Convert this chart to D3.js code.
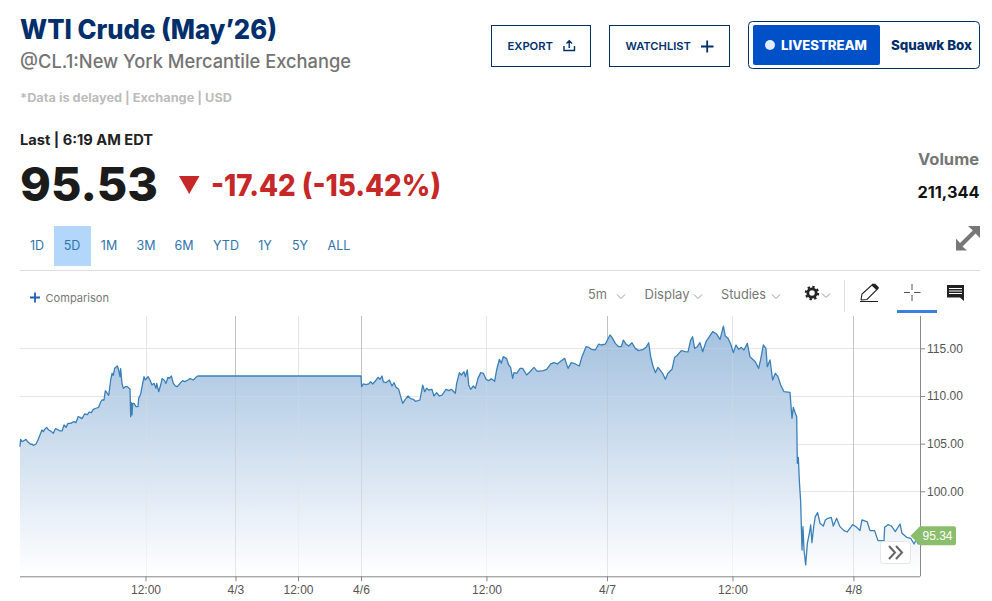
<!DOCTYPE html>
<html><head><meta charset="utf-8">
<script src="https://cdn.jsdelivr.net/npm/d3@7"></script>
<style>html,body{margin:0;padding:0;background:#fff}svg{display:block}</style>
</head><body><div id="c"></div>
<script>
// hours since start of the 5-day window (session-compressed axis)
const hours = [0,.06,.19,.38,.57,.76,1.02,1.15,1.27,1.53,1.72,1.91,2.1,2.23,2.36,2.55,2.74,2.93,3.19,3.38,3.57,3.82,4.02,4.21,4.4,4.59,4.84,5.16,5.35,5.55,5.74,5.93,6.18,6.44,6.63,6.82,7.01,7.33,7.52,7.71,7.84,8.03,8.16,8.35,8.48,8.67,8.8,8.92,9.05,9.31,9.43,9.56,9.62,9.75,9.88,10.07,10.26,10.52,10.58,10.64,10.71,10.77,10.9,11.09,11.28,11.35,11.54,11.73,11.86,11.98,12.24,12.43,12.62,12.81,13,13.07,13.26,13.45,13.58,13.77,13.96,14.15,14.28,14.47,14.66,14.85,15.04,15.3,15.55,15.74,16.06,16.25,16.57,16.89,17.02,
32.6,32.67,32.83,33.08,33.34,33.53,33.72,33.97,34.23,34.42,34.61,34.74,34.99,35.31,35.57,35.76,35.95,36.21,36.4,36.59,36.84,37.1,37.35,37.61,37.8,38.05,38.24,38.5,38.69,38.88,39.07,39.39,39.58,39.84,40.09,40.35,40.73,40.99,41.24,41.62,41.75,42.01,42.2,42.45,42.58,42.77,42.9,43.09,43.34,43.54,43.79,44.05,44.3,44.56,44.81,45.07,45.38,45.57,45.83,46.02,46.21,46.53,46.72,46.91,47.1,47.23,47.49,47.81,48.06,48.44,48.76,49.14,49.46,50.04,50.36,50.74,51.06,51.38,51.69,52.08,52.4,52.71,53.1,53.48,53.73,54.12,54.37,54.63,55.01,55.33,55.58,55.96,56.16,56.41,56.6,56.92,57.24,57.49,57.69,57.94,58.2,58.51,58.83,59.15,59.6,59.85,60.11,60.3,60.49,60.75,61,
61.44,61.7,61.95,62.34,62.59,62.78,63.23,63.61,63.87,64.12,64.31,64.5,64.76,65.01,65.27,65.59,65.91,66.23,66.61,66.93,67.25,67.44,67.69,67.95,68.2,68.46,68.71,68.97,69.22,69.54,69.79,70.05,70.3,70.62,70.81,71.07,71.32,71.45,71.71,71.96,72.22,72.47,72.73,73.05,73.62,73.81,73.94,74.13,74.26,74.32,74.42,74.51,74.64,74.77,74.86,74.96,75.12,75.28,75.47,75.6,75.72,75.91,76.04,76.26,76.49,76.81,77,77.25,77.57,77.76,78.08,78.4,78.78,79.1,79.61,80,80.31,80.5,81.01,81.27,81.71,82.03,82.22,82.61,82.67,82.99,83.31,83.69,84.14,84.33,84.77,85.16,85.48,85.67,85.89,86.05];
const prices = [104.68,105.45,105.21,105.31,105.45,105.17,104.93,104.96,104.82,104.96,105.38,105.91,106.43,106.26,106.5,106.71,106.43,106.33,106.08,106.57,106.5,106.33,106.33,106.96,106.71,107.13,107.13,107.31,107.2,107.83,107.76,107.62,108.11,108.04,108.32,108.25,108.6,108.74,108.81,109.37,109.58,109.58,110.56,110.28,110.07,111.68,112.38,112.17,112.9,113.15,112.73,112.03,112.87,111.33,110.8,110.98,110.98,110.7,107.83,109.3,108.01,109.23,109.23,108.88,108.88,109.75,110.21,111.33,112.03,111.68,112.03,111.68,111.15,111.33,110.8,111.33,110.45,111.15,111.82,111.68,111.33,111.96,111.85,112.1,111.33,111.05,110.98,111.33,111.61,111.5,111.68,111.82,111.68,112.03,112.1,
112.1,110.98,111.26,111.19,111.26,111.5,111.26,111.57,111.96,111.75,112.1,111.47,111.4,111.68,111.05,111.4,110.91,110.7,109.93,109.23,109.65,110,109.72,109.65,109.44,109.51,109.58,111.15,110.45,110.8,110.63,110.7,110,110.35,110,110.1,110.7,110.56,110.7,110.28,111.33,112.45,112.2,112.55,112.03,112.73,111.15,110.7,111.05,110.8,111.85,112.45,112.38,111.75,111.61,111.82,111.54,112.73,113.85,113.43,114.13,113.92,113.25,113,111.85,112.45,112.38,112.9,112.9,112.2,112.55,113,112.59,112.66,112.8,113.36,113.5,113.36,113.64,113.95,112.9,113.5,113.36,113.15,114.13,115.17,115.1,114.9,114.83,115.45,115.35,115.45,115.87,116.4,116.15,115.52,115.17,115.17,115.87,115.45,115.24,115.59,115,114.76,114.9,115.1,115.59,114.13,113.25,112.45,113,
112.38,111.75,112.38,112.8,114.06,114.2,114.76,114.65,114.62,115.87,116.22,115,115.17,115.59,114.65,115.7,116.22,116.75,116.5,115.94,117.34,116.29,116.05,115.45,114.55,115.35,114.9,115.1,114.83,115.52,114.13,113.85,113.6,112.9,113.78,115.35,115,113.08,113.78,111.68,112.38,112.03,111.15,110.45,110.38,107.66,108.81,108.18,107.83,102.94,103.56,101.19,98.91,93.84,96.29,93.84,92.27,94.54,95.59,96.47,94.61,96.47,97.34,97.76,96.64,96.36,96.99,97.17,97.27,96.36,97.17,96.29,95.87,95.73,96.5,96.22,95.87,96.99,96.78,95.87,95.87,94.82,94.82,94.82,96.22,96.5,96.36,95.77,96.57,95.59,95.17,95.07,94.47,94.89,94.47,94.72];
const xTickHours = [12,20.6,26.58,32.6,44.6,56.12,68.12,79.68];
const xTickLabels = ["12:00","4/3","12:00","4/6","12:00","4/7","12:00","4/8"];
const dayTicks = [20.6,32.6,56.12,79.68];
const yTicks = [115,110,105,100];
const lastPrice = 95.34;
const ranges = ["1D","5D","1M","3M","6M","YTD","1Y","5Y","ALL"];
const rangeCenters = [37,72,109,146,184,226,265,300,339];

const W=992,H=601, L=20,R=920,T=316,B=576.3;
const svg=d3.select("#c").append("svg").attr("width",W).attr("height",H).attr("viewBox",`0 0 ${W} ${H}`);
const x=d3.scaleLinear().domain([0,86.05]).range([L,R]);
const y=d3.scaleLinear().domain([91.08,118.4]).range([B,B-(118.4-91.08)*9.53]);
const pts=hours.map((h,i)=>[h,prices[i]]);

const HF="Lato, 'Open Sans', sans-serif";
const IF="Inter, Lato, sans-serif";
function txt(s,px,py,o={}){
  const t=svg.append("text").attr("x",px).attr("y",py).text(s)
   .attr("font-family",o.ff||HF).attr("font-size",o.fs||12).attr("font-weight",o.fw||400)
   .attr("fill",o.c||"#333").attr("text-anchor",o.a||"start");
  if(o.w) t.attr("textLength",o.w).attr("lengthAdjust","spacingAndGlyphs");
  return t;
}
const defs=svg.append("defs");
const g=defs.append("linearGradient").attr("id","fillG").attr("gradientUnits","userSpaceOnUse").attr("x1",0).attr("x2",0).attr("y1",326).attr("y2",B);
g.append("stop").attr("offset",0).attr("stop-color","rgb(162,192,223)");
g.append("stop").attr("offset",1).attr("stop-color","rgb(255,255,255)");

// grid
const grid=svg.append("g");
grid.selectAll(".h").data(yTicks).join("line").attr("x1",L).attr("x2",R).attr("y1",d=>Math.round(y(d))+.5).attr("y2",d=>Math.round(y(d))+.5).attr("stroke","#e9e9e9");
grid.selectAll(".v").data(xTickHours).join("line").attr("y1",T).attr("y2",B).attr("x1",d=>Math.round(x(d))+.5).attr("x2",d=>Math.round(x(d))+.5).attr("stroke",d=>dayTicks.includes(d)?"#c9c9c9":"#e9e9e9");

// area + faint grid through it + line
svg.append("path").datum(pts).attr("fill","url(#fillG)").attr("d",d3.area().x(d=>x(d[0])).y0(B).y1(d=>y(d[1])));
const over=svg.append("g").attr("opacity",.3);
over.selectAll(".h").data(yTicks).join("line").attr("x1",L).attr("x2",R).attr("y1",d=>Math.round(y(d))+.5).attr("y2",d=>Math.round(y(d))+.5).attr("stroke","#e0e0e0");
over.selectAll(".v").data(xTickHours).join("line").attr("y1",T).attr("y2",B).attr("x1",d=>Math.round(x(d))+.5).attr("x2",d=>Math.round(x(d))+.5).attr("stroke",d=>dayTicks.includes(d)?"#b5b5b5":"#e0e0e0");
svg.append("path").datum(pts).attr("fill","none").attr("stroke","#3a80b8").attr("stroke-width",1.3).attr("stroke-linejoin","round").attr("d",d3.line().x(d=>x(d[0])).y(d=>y(d[1])));

// axes
const ax=svg.append("g").attr("transform",`translate(0,${B})`).call(d3.axisBottom(x).tickValues(xTickHours).tickSize(5).tickPadding(4).tickFormat((d,i)=>xTickLabels[i]));
const ay=svg.append("g").attr("transform",`translate(${R},0)`).call(d3.axisRight(y).tickValues(yTicks).tickSize(5).tickPadding(2).tickFormat(d3.format(".2f")));
[ax,ay].forEach(a=>{a.selectAll("text").attr("font-family","'Liberation Sans',Arial,sans-serif").attr("font-size",12).attr("fill","#555");
 a.selectAll("line").attr("stroke","#888");a.select(".domain").attr("stroke","#888");});
ax.select(".domain").attr("d",`M${L},0.5H${R}`);
ay.select(".domain").attr("d",`M0.5,${T}V${B}`);

// last price tag
const ly=y(lastPrice);
svg.append("path").attr("fill","#8abd6c").attr("d",`M910.5,${ly} L918,${ly-7.5} Q919,${ly-9.5} 921,${ly-9.5} H954 Q956,${ly-9.5} 956,${ly-7.5} V${ly+7.5} Q956,${ly+9.5} 954,${ly+9.5} H921 Q919,${ly+9.5} 918,${ly+7.5} Z`);
txt(lastPrice.toFixed(2),937.5,ly+4.3,{ff:"'Liberation Sans',Arial,sans-serif",fs:12,c:"#fff",a:"middle"});

// scroll button
svg.append("rect").attr("x",880.5).attr("y",541.5).attr("width",30).attr("height",22).attr("rx",3).attr("fill","#fff").attr("stroke","#e6e6e6");
svg.append("path").attr("fill","none").attr("stroke","#666").attr("stroke-width",2).attr("d","M889,546 L895,552.5 L889,559 M896,546 L902,552.5 L896,559");

// header
txt("WTI Crude (May’26)",20,39,{ff:IF,fs:26.5,fw:800,c:"#002f6c",w:257});
txt("@CL.1:New York Mercantile Exchange",20,67.5,{ff:IF,fs:18.5,fw:500,c:"#747474",w:331});
txt("*Data is delayed | Exchange | USD",20,102,{ff:IF,fs:12,fw:700,c:"#bcbcbc",w:212});
txt("Last | 6:19 AM EDT",20,145,{ff:IF,fs:14,fw:700,c:"#222",w:133});
txt("95.53",20,201,{ff:IF,fs:47,fw:800,c:"#1b1b1b",w:138});
svg.append("path").attr("fill","#c62828").attr("d","M179,176 H199.5 L189.2,194 Z");
txt("-17.42 (-15.42%)",211,196,{ff:IF,fs:30,fw:800,c:"#c62828",w:230});

// buttons
const navy="#002f6c";
svg.append("rect").attr("x",491.5).attr("y",25.5).attr("width",99).attr("height",41).attr("fill","#fff").attr("stroke",navy);
txt("EXPORT",507.5,50,{ff:IF,fs:10.5,fw:600,c:navy,w:45.5});
svg.append("path").attr("fill","none").attr("stroke",navy).attr("stroke-width",1.4).attr("d","M564,46 V50.5 H574.5 V46 M569.2,48 V41 M566.5,43.5 L569.2,40.7 L572,43.5");
svg.append("rect").attr("x",609.5).attr("y",25.5).attr("width",120).attr("height",41).attr("fill","#fff").attr("stroke",navy);
txt("WATCHLIST",625.5,50,{ff:IF,fs:10.5,fw:600,c:navy,w:65.5});
svg.append("path").attr("fill","none").attr("stroke",navy).attr("stroke-width",1.8).attr("d","M701,46.5 H713.5 M707.2,40.5 V52.5");
svg.append("rect").attr("x",748.5).attr("y",21.5).attr("width",231).attr("height",47).attr("rx",4).attr("fill","#fff").attr("stroke",navy);
svg.append("rect").attr("x",753).attr("y",25).attr("width",127).attr("height",40).attr("rx",2).attr("fill","#0050c8");
svg.append("circle").attr("cx",770).attr("cy",45).attr("r",5).attr("fill","#e3ecfb");
txt("LIVESTREAM",781,49.5,{ff:IF,fs:12.5,fw:800,c:"#fff",w:86});
txt("Squawk Box",891,50,{ff:IF,fs:13,fw:800,c:navy,w:81});

// volume
txt("Volume",918,165,{ff:IF,fs:15.5,fw:700,c:"#757575",w:61});
txt("211,344",917.5,198,{ff:IF,fs:15.5,fw:700,c:"#111",w:62});
// expand icon
svg.append("path").attr("fill","#777").attr("d","M980,226 V238 L975.5,233.5 L962.5,246.5 L967,250.5 H956 V238.5 L960,243 L972.8,230.5 L968,226 Z");

// range tabs
svg.append("rect").attr("x",54).attr("y",226).attr("width",37).attr("height",40).attr("fill","#b3d7fb");
svg.selectAll(".r").data(ranges).join("text").text(d=>d).attr("x",(d,i)=>rangeCenters[i]).attr("y",250).attr("text-anchor","middle")
 .attr("font-family",IF).attr("font-size",12.5).attr("fill","#2f75ad");
svg.append("line").attr("x1",20).attr("x2",980).attr("y1",270.5).attr("y2",270.5).attr("stroke","#dedede");

// toolbar
svg.append("path").attr("stroke","#1c5fb8").attr("stroke-width",1.8).attr("d","M30,297.5 H40 M35,292.5 V302.5");
txt("Comparison",45.5,302,{ff:IF,fs:11,c:"#777",w:63.5});
const chev=(cx,cy)=>svg.append("path").attr("fill","none").attr("stroke","#999").attr("d",`M${cx-4},${cy-2.5} L${cx},${cy+1.5} L${cx+4},${cy-2.5}`);
txt("5m",588,299,{ff:IF,fs:13.5,c:"#777",w:19}); chev(621,297);
txt("Display",644.5,299,{ff:IF,fs:13.5,c:"#777",w:45}); chev(698,297);
txt("Studies",721,299,{ff:IF,fs:13.5,c:"#777",w:45}); chev(776,297);
// gear
svg.append("circle").attr("cx",812).attr("cy",293).attr("r",4.2).attr("fill","none").attr("stroke","#222").attr("stroke-width",2.8);
svg.append("circle").attr("cx",812).attr("cy",293).attr("r",6.2).attr("fill","none").attr("stroke","#222").attr("stroke-width",2).attr("stroke-dasharray","2.4 2.4");
chev(826,296);
svg.append("line").attr("x1",844.5).attr("x2",844.5).attr("y1",280).attr("y2",312).attr("stroke","#ddd");
// pencil
svg.append("path").attr("fill","none").attr("stroke","#222").attr("stroke-width",1.1).attr("d","M861,300 L862,294 L873,284 L878,288.5 L867,299.5 L861,300 M860,301.5 H878");
svg.append("path").attr("fill","#222").attr("d","M871.5,285.5 L875,283.5 L879,287.5 L876.5,290 Z");
// crosshair
svg.append("path").attr("stroke","#555").attr("d","M904,292.5 H910 M914,292.5 H920.5 M912,284 V290 M912,295 V301");
svg.append("rect").attr("x",897).attr("y",310).attr("width",40).attr("height",3).attr("fill","#3b7fe0");
// comment
svg.append("path").attr("fill","#222").attr("d","M947,285 H964 V301 L960,297.5 H947 Z");
svg.append("path").attr("stroke","#fff").attr("d","M949,288.5 H962 M949,291 H962 M949,293.5 H962");
</script></body></html>
